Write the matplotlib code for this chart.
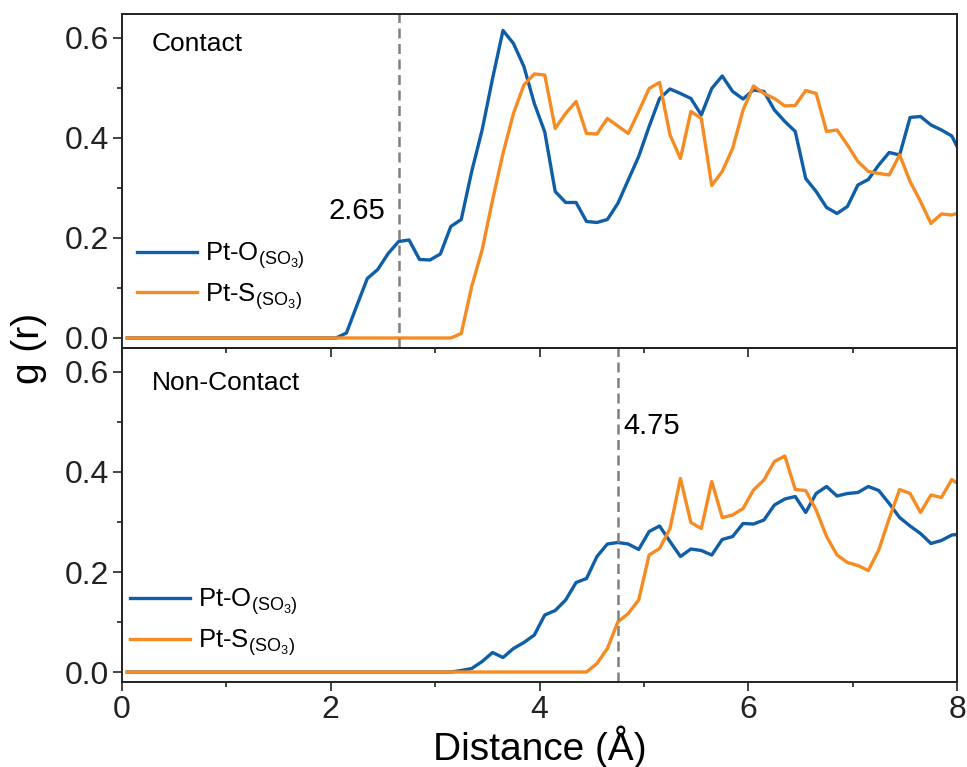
import numpy as np
import matplotlib
matplotlib.use("Agg")
import matplotlib.pyplot as plt
from matplotlib.ticker import MultipleLocator, FormatStrFormatter

plt.rcParams["font.family"] = ["Liberation Sans", "DejaVu Sans"]
plt.rcParams["mathtext.fontset"] = "custom"
plt.rcParams["mathtext.rm"] = "Liberation Sans"
plt.rcParams["mathtext.it"] = "Liberation Sans:italic"

# RDF sampled every 0.1 A, bin centres 0.05 ... 8.05
r = np.round(np.arange(0.05, 8.1, 0.1), 2)

contact_pt_o = [
    0.0, 0.0, 0.0, 0.0, 0.0, 0.0, 0.0, 0.0, 0.0, 0.0,
    0.0, 0.0, 0.0, 0.0, 0.0, 0.0, 0.0, 0.0, 0.0, 0.0,
    0.0, 0.01, 0.065, 0.119, 0.137, 0.169, 0.193, 0.196, 0.157, 0.156,
    0.168, 0.223, 0.237, 0.333, 0.416, 0.519, 0.615, 0.589, 0.543, 0.469,
    0.412, 0.293, 0.271, 0.271, 0.233, 0.231, 0.237, 0.269, 0.316, 0.363,
    0.423, 0.479, 0.498, 0.489, 0.479, 0.446, 0.499, 0.524, 0.493, 0.478,
    0.496, 0.493, 0.456, 0.433, 0.413, 0.319, 0.293, 0.261, 0.249, 0.263,
    0.306, 0.317, 0.346, 0.371, 0.366, 0.441, 0.443, 0.426, 0.416, 0.404,
    0.362,
]
contact_pt_s = [
    0.0, 0.0, 0.0, 0.0, 0.0, 0.0, 0.0, 0.0, 0.0, 0.0,
    0.0, 0.0, 0.0, 0.0, 0.0, 0.0, 0.0, 0.0, 0.0, 0.0,
    0.0, 0.0, 0.0, 0.0, 0.0, 0.0, 0.0, 0.0, 0.0, 0.0,
    0.0, 0.0, 0.009, 0.103, 0.176, 0.276, 0.369, 0.449, 0.506, 0.528,
    0.526, 0.419, 0.449, 0.473, 0.409, 0.408, 0.439, 0.424, 0.409, 0.453,
    0.499, 0.511, 0.406, 0.359, 0.453, 0.439, 0.305, 0.333, 0.379, 0.456,
    0.504, 0.489, 0.479, 0.464, 0.465, 0.495, 0.489, 0.413, 0.416, 0.386,
    0.353, 0.333, 0.329, 0.326, 0.366, 0.313, 0.273, 0.229, 0.248, 0.246,
    0.252,
]
noncontact_pt_o = [
    0.0, 0.0, 0.0, 0.0, 0.0, 0.0, 0.0, 0.0, 0.0, 0.0,
    0.0, 0.0, 0.0, 0.0, 0.0, 0.0, 0.0, 0.0, 0.0, 0.0,
    0.0, 0.0, 0.0, 0.0, 0.0, 0.0, 0.0, 0.0, 0.0, 0.0,
    0.0, 0.0, 0.003, 0.007, 0.021, 0.039, 0.029, 0.047, 0.059, 0.074,
    0.114, 0.123, 0.144, 0.179, 0.187, 0.231, 0.256, 0.259, 0.256, 0.245,
    0.281, 0.292, 0.261, 0.231, 0.246, 0.243, 0.234, 0.265, 0.271, 0.297,
    0.296, 0.304, 0.334, 0.346, 0.351, 0.319, 0.357, 0.371, 0.352, 0.357,
    0.359, 0.371, 0.363, 0.337, 0.309, 0.292, 0.277, 0.257, 0.263, 0.274,
    0.276,
]
noncontact_pt_s = [
    0.0, 0.0, 0.0, 0.0, 0.0, 0.0, 0.0, 0.0, 0.0, 0.0,
    0.0, 0.0, 0.0, 0.0, 0.0, 0.0, 0.0, 0.0, 0.0, 0.0,
    0.0, 0.0, 0.0, 0.0, 0.0, 0.0, 0.0, 0.0, 0.0, 0.0,
    0.0, 0.0, 0.0, 0.0, 0.0, 0.0, 0.0, 0.0, 0.0, 0.0,
    0.0, 0.0, 0.0, 0.0, 0.0, 0.017, 0.047, 0.100, 0.117, 0.144,
    0.234, 0.247, 0.287, 0.387, 0.299, 0.287, 0.381, 0.309, 0.314, 0.327,
    0.364, 0.384, 0.421, 0.432, 0.365, 0.363, 0.324, 0.271, 0.234, 0.219,
    0.213, 0.203, 0.244, 0.307, 0.365, 0.357, 0.319, 0.354, 0.349, 0.385,
    0.370,
]

first_peak = [2.65, 4.75]
panel_names = ["Contact", "Non-Contact"]
labels = [r"Pt-O$_{\mathrm{(SO_3)}}$", r"Pt-S$_{\mathrm{(SO_3)}}$"]

BLUE = "#0f5ea6"
ORANGE = "#f68b23"
SPINE = "#222222"

fig = plt.figure(figsize=(9.67, 7.67), dpi=100)
ax1 = fig.add_axes([0.1262, 0.5463, 0.8635, 0.4355])
ax2 = fig.add_axes([0.1262, 0.1108, 0.8635, 0.4355])
# top panel drawn last so its outward x ticks show over the lower panel
ax1.set_zorder(ax2.get_zorder() + 1)
ax1.patch.set_alpha(0)

series = [(contact_pt_o, contact_pt_s), (noncontact_pt_o, noncontact_pt_s)]
for ax, (g_o, g_s) in zip([ax1, ax2], series):
    ax.plot(r, g_o, color=BLUE, lw=2.4, label=labels[0])
    ax.plot(r, g_s, color=ORANGE, lw=2.4, label=labels[1])
    ax.set_xlim(0, 8)
    ax.set_ylim(-0.02, 0.648)
    ax.xaxis.set_major_locator(MultipleLocator(2))
    ax.xaxis.set_minor_locator(MultipleLocator(1))
    ax.yaxis.set_major_locator(MultipleLocator(0.2))
    ax.yaxis.set_minor_locator(MultipleLocator(0.1))
    ax.yaxis.set_major_formatter(FormatStrFormatter("%.1f"))
    ax.tick_params(which="major", direction="out", length=6.5, width=1.2,
                   labelsize=23, pad=3, colors=SPINE)
    ax.tick_params(which="minor", direction="out", length=3.6, width=1.2,
                   colors=SPINE)
    ax.tick_params(top=False, right=False, which="both")
    for sp in ax.spines.values():
        sp.set_linewidth(1.4)
        sp.set_color(SPINE)

ax1.tick_params(labelbottom=False)

# first-shell distances
ax1.axvline(first_peak[0], color="#808080", lw=1.8, ls=(0, (4.0, 2.2)))
ax2.axvline(first_peak[1], color="#808080", lw=1.8, ls=(0, (4.0, 2.2)))
ax1.text(2.52, 0.254, f"{first_peak[0]:.2f}", fontsize=21, ha="right", va="center")
ax2.text(4.80, 0.492, f"{first_peak[1]:.2f}", fontsize=21, ha="left", va="center")

ax1.text(0.287, 0.588, panel_names[0], fontsize=19, va="center")
ax2.text(0.287, 0.578, panel_names[1], fontsize=19, va="center")

leg_kw = dict(loc="center left", frameon=False, fontsize=18.5, handlelength=2.35,
              handletextpad=0.3, labelspacing=0.4, borderpad=0, borderaxespad=0)
ax1.legend(bbox_to_anchor=(0.018, 0.216), **leg_kw)
ax2.legend(bbox_to_anchor=(0.009, 0.179), **leg_kw)

ax2.set_xlabel("Distance (Å)", fontsize=28, labelpad=0)
fig.text(0.030, 0.546, "g (r)", fontsize=28, rotation=90, ha="center", va="center")

fig.savefig("out.png", dpi=100)
